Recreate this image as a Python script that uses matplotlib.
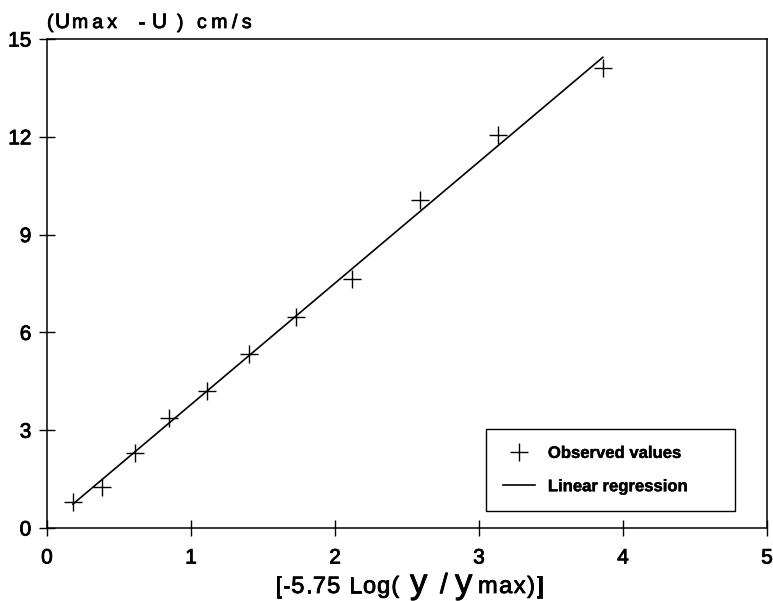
import numpy as np
import matplotlib
matplotlib.use("Agg")
import matplotlib.pyplot as plt
import matplotlib.patheffects as pe
from matplotlib.lines import Line2D
from matplotlib.font_manager import FontProperties

# Velocity defect against the log-law coordinate
log_coord = [0.18, 0.38, 0.61, 0.85, 1.11, 1.40, 1.73, 2.12, 2.59, 3.13, 3.86]
u_defect = [0.81, 1.27, 2.29, 3.36, 4.21, 5.33, 6.46, 7.63, 10.06, 12.06, 14.10]

x_ticks = [0, 1, 2, 3, 4, 5]
y_ticks = [0, 3, 6, 9, 12, 15]
legend_labels = ["Observed values", "Linear regression"]

W, H = 773, 601
plt.rcParams["font.family"] = ["Liberation Sans", "DejaVu Sans"]
heavy = [pe.withStroke(linewidth=0.6, foreground="k")]


def px(x, y):
    # pixel position (from top-left) -> figure fraction
    return x / W, 1 - y / H


fig = plt.figure(figsize=(W / 100, H / 100), dpi=100)
renderer = fig.canvas.get_renderer()


def spaced_text(x, y, s, size, track):
    # draw a string one glyph at a time with extra letter spacing (pixels)
    for ch in s:
        if ch == " ":
            x += size * 0.28 * 100 / 72 + track
            continue
        t = fig.text(*px(x, y), ch, fontsize=size, va="baseline", ha="left",
                     path_effects=heavy)
        x += t.get_window_extent(renderer).width + track
    return x


ax = fig.add_axes([47 / W, 1 - 528 / H, 720 / W, 489 / H])

# Observed points
ax.plot(log_coord, u_defect, ls="none", marker="+", ms=12.5, mew=1.0, color="k")

# Least-squares line through the points
slope, intercept = np.polyfit(log_coord, u_defect, 1)
fit_x = np.array([log_coord[0], log_coord[-1]])
ax.plot(fit_x, slope * fit_x + intercept, color="k", lw=1.2)

ax.set_xlim(0, 5)
ax.set_ylim(0, 15)
ax.set_xticks(x_ticks)
ax.set_yticks(y_ticks)
ax.tick_params(axis="both", direction="inout", length=11.5, width=1.0,
               labelsize=15, colors="k")
ax.tick_params(axis="x", pad=9)
ax.tick_params(axis="y", pad=5.5)
for lbl in ax.get_xticklabels() + ax.get_yticklabels():
    lbl.set_path_effects(heavy)
for sp in ax.spines.values():
    sp.set_linewidth(1.1)
    sp.set_color("k")

# Legend box
handles = [Line2D([], [], ls="none", marker="+", ms=12.5, mew=1.0, color="k"),
           Line2D([], [], color="k", lw=1.2)]
leg = ax.legend(handles, legend_labels, loc="lower left",
                bbox_to_anchor=(0.610, 0.035, 0.346, 0.161), mode="expand",
                prop=FontProperties(family="Liberation Sans", weight="bold", size=12),
                frameon=True, fancybox=False, edgecolor="k", framealpha=1,
                borderpad=1.0, labelspacing=1.1, handlelength=1.9,
                handletextpad=0.8, borderaxespad=0)
leg.get_frame().set_linewidth(1.0)
for t in leg.get_texts():
    t.set_path_effects([pe.withStroke(linewidth=0.3, foreground="k")])

# Y-axis title, drawn in pieces
for txt, x, size, track in [("(", 47, 14, 0), ("U", 55, 15, 0), ("max", 72, 14, 4),
                            ("-", 138, 14, 0), ("U", 152, 15, 0), (")", 177, 14, 0),
                            ("cm/s", 197, 14, 4.5)]:
    spaced_text(x, 28, txt, size, track)

# X-axis title, drawn in pieces
for txt, x, size, track in [("[-5.75 Log(", 275, 17, 1), ("y", 410, 25, 0),
                            ("/", 440, 20, 0), ("y", 455, 25, 0),
                            ("max)]", 478, 17, 1.5)]:
    spaced_text(x, 593, txt, size, track)

fig.savefig("out.png", dpi=100)
